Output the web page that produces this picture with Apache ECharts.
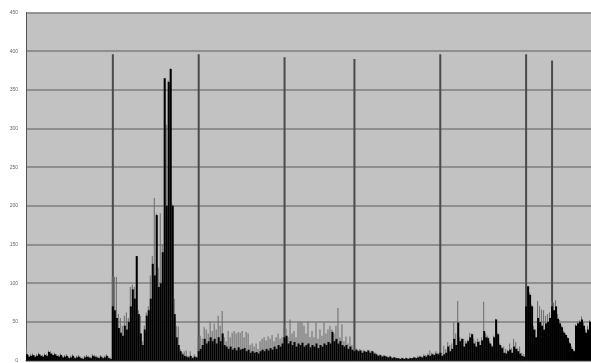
<!DOCTYPE html>
<html>
<head>
<meta charset="utf-8">
<script src="https://cdn.jsdelivr.net/npm/echarts@6/dist/echarts.min.js"></script>
<style>
html,body{margin:0;padding:0;background:#fff;}
#chart{width:591px;height:363px;}
</style>
</head>
<body>
<div id="chart"></div>
<script>
const yTicks = [0, 50, 100, 150, 200, 250, 300, 350, 400, 450];

const blackValues = [
  8,5,6,7,5,6,8,6,5,7, 6,11,9,7,8,6,5,7,4,5, 6,3,4,6,3,4,5,3,2,4, 5,4,3,6,5,4,3,5,3,4, 6,3,2,
  70,65,55,42,36,32,45,40,50,70, 92,80,135,60,35,20,40,58,65,80, 125,110,188,95,100,140,365,200,360,377, 200,60,30,20,12,8,6,5,4,6, 3,5,4,
  12,15,20,28,22,25,30,25,28,22, 30,25,35,20,18,15,18,14,16,13, 17,14,15,16,12,14,10,12,10,11, 9,12,14,12,15,13,16,14,18,15, 20,18,22,
  30,32,22,25,20,24,18,22,20,23, 18,20,22,17,20,18,22,16,20,18, 22,20,24,22,37,25,28,22,25,20, 18,20,15,18,14,12,
  14,12,13,10,12,11,13,10,12,9, 8,6,7,5,6,5,4,5,3,4, 3,3,2,3,2,3,2,3,3,4, 3,4,5,4,6,5,7,6,8,7, 9,8,10,
  6,8,10,18,12,15,28,20,49,25, 28,18,22,25,30,34,22,18,24,20, 26,38,30,29,22,18,30,53,34,20, 16,10,9,12,14,10,18,15,12,9, 6,5,
  70,96,85,70,40,30,55,50,45,40, 48,50,55,70,65,70,54,48,43,36, 33,29,22,15,12,45,48,50,53,45, 36,40,50
];

const grayValues = [
  17,7,8,9,7,8,10,8,7,9, 8,13,12,9,10,8,7,9,6,7, 8,5,6,8,5,6,7,5,4,6, 7,6,5,8,7,6,5,7,5,6, 8,5,4,
  109,108,108,60,55,45,58,62,55,95, 98,95,135,65,58,25,45,62,70,110, 135,210,190,120,190,150,365,305,362,378, 202,80,45,44,15,10,12,13,6,12, 5,8,5,
  30,32,28,43,40,35,50,38,48,40, 58,45,64,30,25,38,30,36,38,35, 37,36,38,30,37,35,20,22,18,22, 15,25,28,30,26,31,28,33,25,30, 35,28,30,
  45,41,30,53,35,38,30,49,50,49, 45,35,50,30,38,30,49,28,40,32, 49,35,40,45,40,35,45,68,30,47, 25,31,22,31,20,15,
  16,14,15,13,14,12,14,12,13,11, 10,7,8,6,7,6,5,6,4,5, 4,3,3,4,3,4,3,4,3,5, 4,6,6,5,8,7,9,13,10,9, 12,10,12,
  10,19,15,24,20,22,49,35,77,30, 28,28,25,27,36,35,28,25,28,25, 30,76,35,32,25,20,32,54,36,22, 18,18,15,14,22,16,28,24,16,18, 10,8,
  70,96,88,72,45,40,77,70,66,65, 58,60,62,77,75,78,60,52,45,38, 35,30,24,18,14,47,50,52,57,50, 40,45,52
];

const markerIndex = [43, 86, 129, 164, 207, 250, 263];
const markerValues = [396, 396, 392, 390, 396, 396, 388];

const categories = blackValues.map((_, i) => i + 1);
const markerData = categories.map(() => null);
markerIndex.forEach((idx, k) => { markerData[idx] = markerValues[k]; });

const chart = echarts.init(document.getElementById('chart'), null, {renderer: 'canvas'});
chart.setOption({
  animation: false,
  backgroundColor: '#ffffff',
  grid: {
    left: 26, right: 0, top: 12.5, bottom: 1.5,
    show: true, backgroundColor: '#c2c2c2', borderWidth: 0
  },
  xAxis: {
    type: 'category',
    data: categories,
    axisLine: {show: true, lineStyle: {color: '#333', width: 1}},
    axisTick: {show: false},
    axisLabel: {show: false},
    splitLine: {show: false}
  },
  yAxis: {
    type: 'value',
    min: 0, max: 450, interval: 50,
    axisLine: {show: true, lineStyle: {color: '#555', width: 1}},
    axisTick: {show: false},
    axisLabel: {
      show: true, fontSize: 5, color: '#666', margin: 8,
      fontFamily: 'Liberation Sans',
      formatter: function (v) { return yTicks.indexOf(v) >= 0 ? String(v) : ''; }
    },
    splitLine: {show: true, lineStyle: {color: '#7e7e7e', width: 1.5}}
  },
  series: [
    {
      name: 'marker', type: 'bar', data: markerData,
      barWidth: 2, barGap: '-100%', barCategoryGap: '0%',
      itemStyle: {color: '#4a4a4a'}, z: 1
    },
    {
      name: 'max', type: 'bar', data: grayValues,
      barWidth: 1, barCategoryGap: '0%', barGap: '-100%',
      itemStyle: {color: '#6a6a6a'}, z: 2
    },
    {
      name: 'value', type: 'bar', data: blackValues,
      barWidth: 2, barCategoryGap: '0%', barGap: '-100%',
      itemStyle: {color: '#000000'}, z: 3
    }
  ]
});
</script>
</body>
</html>
